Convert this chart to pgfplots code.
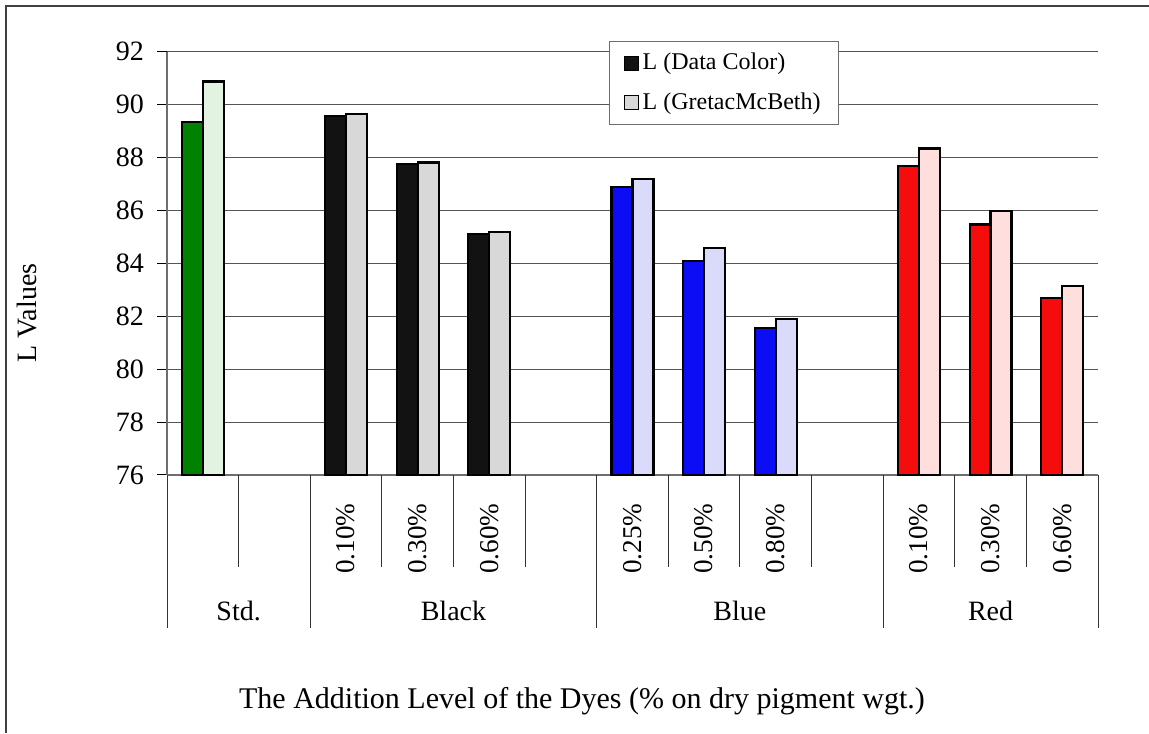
\documentclass[border=0pt]{standalone}
\usepackage{fontspec}
\setmainfont{Liberation Serif}
\usepackage{pgfplots}
\pgfplotsset{compat=1.18}

% bar colours (dark = Data Color, light = GretacMcBeth)
\definecolor{stdDark}{RGB}{0,130,0}
\definecolor{stdLight}{RGB}{226,243,226}
\definecolor{blkDark}{RGB}{18,18,18}
\definecolor{blkLight}{RGB}{216,216,216}
\definecolor{bluDark}{RGB}{12,12,245}
\definecolor{bluLight}{RGB}{218,218,250}
\definecolor{redDark}{RGB}{245,12,12}
\definecolor{redLight}{RGB}{255,222,222}
\definecolor{gridgray}{RGB}{85,85,85}
\definecolor{axisgray}{RGB}{110,110,110}

\newcommand{\mainfont}{\fontsize{14}{16}\selectfont}

% common geometry of the plot area
\pgfplotsset{plotarea/.style={
  at={(83.5pt,129pt)}, anchor=south west,
  scale only axis, width=465.5pt, height=211.65pt,
  xmin=0, xmax=13, ymin=76, ymax=92,
}}

\begin{document}
\begin{tikzpicture}
\useasboundingbox (0,0) rectangle (574.5pt,366.5pt);
% chart frame (left and top edges)
\draw[black!75,line width=0.6pt] (3pt,0) -- (3pt,363.5pt) -- (574.5pt,363.5pt);

\begin{axis}[
  plotarea,
  ytick={76,78,...,92},
  /pgf/number format/assume math mode=true,
  axis x line*=bottom, axis y line*=left,
  axis line style={axisgray,line width=0.6pt,-},
  ymajorgrids, grid style={gridgray,line width=0.5pt},
  y tick style={black,line width=0.5pt}, tick align=outside, major tick length=5pt,
  yticklabel style={font=\mainfont, anchor=east, xshift=-3pt},
  xtick={0.5,2.5,3.5,4.5,6.5,7.5,8.5,10.5,11.5,12.5},
  xticklabels={,0.10\%,0.30\%,0.60\%,0.25\%,0.50\%,0.80\%,0.10\%,0.30\%,0.60\%},
  x tick style={draw=none},
  xticklabel style={font=\fontsize{13.6}{16}\selectfont, inner sep=0pt, yshift=-9pt, rotate=90, anchor=east},
  clip=false,
  legend style={draw=axisgray, fill=white, line width=0.6pt,
    at={(rel axis cs:0.4748,1.026)}, anchor=north west,
    font=\fontsize{12}{13.5}\selectfont, inner xsep=7pt, inner ysep=4pt,
    row sep=6pt, cells={anchor=west}},
  legend image code/.code={\draw[#1,line width=0.5pt] (0pt,-3.5pt) rectangle (7pt,3.5pt);},
]

% L (Data Color)
\addplot[ybar, bar width=0.293, bar shift=-0.1465, fill=stdDark, draw=black, line width=1.1pt, forget plot]
  coordinates {(0.5,89.35)};
\addplot[ybar, bar width=0.293, bar shift=-0.1465, fill=blkDark, draw=black, line width=1.1pt, forget plot]
  coordinates {(2.5,89.57) (3.5,87.75) (4.5,85.12)};
\addplot[ybar, bar width=0.293, bar shift=-0.1465, fill=bluDark, draw=black, line width=1.1pt, forget plot]
  coordinates {(6.5,86.88) (7.5,84.10) (8.5,81.55)};
\addplot[ybar, bar width=0.293, bar shift=-0.1465, fill=redDark, draw=black, line width=1.1pt, forget plot]
  coordinates {(10.5,87.68) (11.5,85.47) (12.5,82.68)};

% L (GretacMcBeth)
\addplot[ybar, bar width=0.293, bar shift=0.1465, fill=stdLight, draw=black, line width=1.1pt, forget plot]
  coordinates {(0.5,90.87)};
\addplot[ybar, bar width=0.293, bar shift=0.1465, fill=blkLight, draw=black, line width=1.1pt, forget plot]
  coordinates {(2.5,89.63) (3.5,87.81) (4.5,85.18)};
\addplot[ybar, bar width=0.293, bar shift=0.1465, fill=bluLight, draw=black, line width=1.1pt, forget plot]
  coordinates {(6.5,87.20) (7.5,84.57) (8.5,81.89)};
\addplot[ybar, bar width=0.293, bar shift=0.1465, fill=redLight, draw=black, line width=1.1pt, forget plot]
  coordinates {(10.5,88.34) (11.5,85.98) (12.5,83.15)};

\addlegendimage{fill=blkDark, draw=black}
\addlegendentry{L (Data Color)}
\addlegendimage{fill=blkLight, draw=black}
\addlegendentry{L (GretacMcBeth)}

% category separators below the axis
\pgfplotsinvokeforeach{1,3,4,5,7,8,9,11,12}{
  \draw[black!80,line width=0.5pt] (axis cs:#1,76) -- ([yshift=-46pt]axis cs:#1,76);
}
\pgfplotsinvokeforeach{0,2,6,10,13}{
  \draw[black!80,line width=0.5pt] (axis cs:#1,76) -- ([yshift=-76.5pt]axis cs:#1,76);
}
\end{axis}

% outer category level: dye groups
\begin{axis}[
  plotarea,
  axis y line=none, ytick=\empty,
  axis x line*=bottom, x axis line style={draw=none},
  xtick={1,4,8,11.5},
  xticklabels={Std.,Black,Blue,Red},
  x tick style={draw=none},
  xticklabel style={font=\mainfont, inner sep=0pt, anchor=base, yshift=-72.5pt},
]
\end{axis}

\node[font=\mainfont, rotate=90] at (13.5pt,210pt) {L Values};
\node[font=\fontsize{15}{17}\selectfont, anchor=base] at (291pt,12.5pt)
  {The Addition Level of the Dyes (\% on dry pigment wgt.)};
\end{tikzpicture}
\end{document}
